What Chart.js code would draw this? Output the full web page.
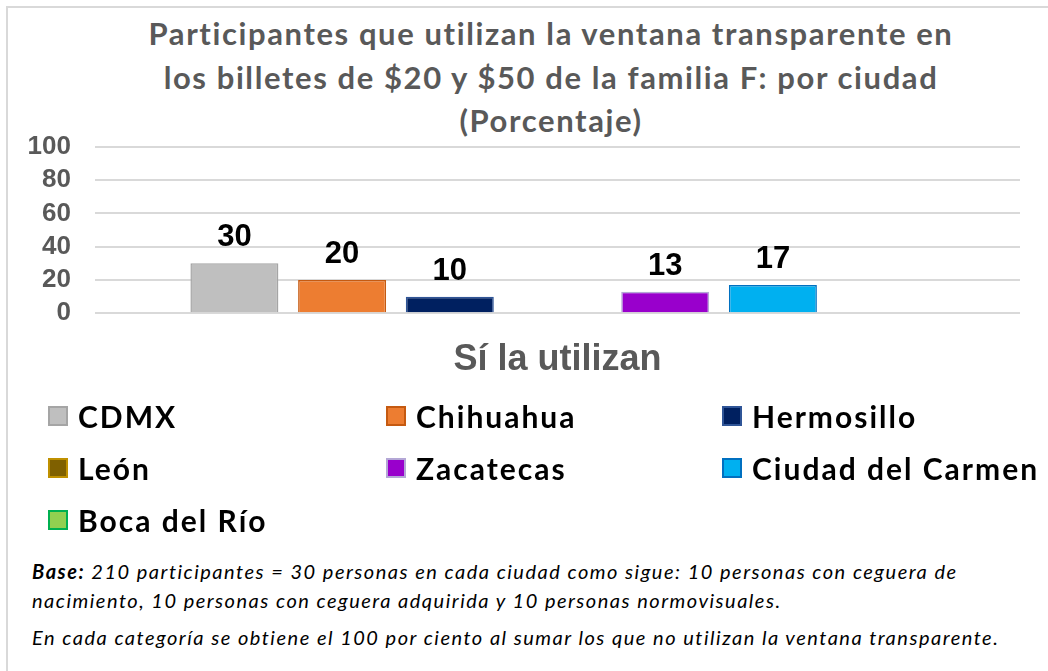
<!DOCTYPE html>
<html><head><meta charset="utf-8">
<script src="https://cdn.jsdelivr.net/npm/chart.js@4.4.1/dist/chart.umd.min.js"></script>
<style>
html,body{margin:0;padding:0;background:#fff;width:1048px;height:671px;overflow:hidden;}
#frame{position:absolute;left:6px;top:6px;width:1100px;height:700px;border-left:2px solid #d9d9d9;border-top:2px solid #d9d9d9;}
#title{position:absolute;left:0;top:12px;width:1102px;text-align:center;font-family:Lato,sans-serif;font-weight:bold;font-size:31px;letter-spacing:1.6px;line-height:43.5px;color:#595959;}
#wrap{position:absolute;left:0;top:120px;width:1048px;height:280px;}
#legend{position:absolute;left:0;top:390px;width:1048px;height:160px;font-family:Lato,sans-serif;font-weight:bold;font-size:30px;letter-spacing:2px;color:#000;}
.li{position:absolute;height:52px;display:flex;align-items:center;white-space:nowrap;}
.sw{width:20px;height:20px;margin-right:10px;box-sizing:border-box;border:2px solid;}
#note{position:absolute;left:32px;top:557px;width:1016px;font-family:Lato,sans-serif;font-style:italic;font-size:20px;letter-spacing:1.5px;color:#000;line-height:29px;white-space:nowrap;}
#note p{margin:0;}
</style></head><body>
<div id="frame"></div>
<div id="title">Participantes que utilizan la ventana transparente en<br>los billetes de $20 y $50 de la familia F: por ciudad<br>(Porcentaje)</div>
<div id="wrap"><canvas id="c" width="1048" height="280"></canvas></div>
<div id="legend"></div>
<div id="note"><p><b>Base:</b> 210 participantes = 30 personas en cada ciudad como sigue: 10 personas con ceguera de<br>nacimiento, 10 personas con ceguera adquirida y 10 personas normovisuales.</p><p style="margin-top:8px">En cada categoría se obtiene el 100 por ciento al sumar los que no utilizan la ventana transparente.</p></div>
<script>
const categories = ["Sí la utilizan"];
const cities = ["CDMX","Chihuahua","Hermosillo","León","Zacatecas","Ciudad del Carmen","Boca del Río"];
const values = [30, 20, 10, null, 13, 17, null];
const fillColors = ["#bfbfbf","#ed7d31","#002060","#7f6000","#9900cc","#00b0f0","#92d050"];
const borderColors = ["#a5a5a5","#c55a11","#2f5597","#bf9000","#b4a7d6","#0070c0","#00b050"];
const yTicks = [0,20,40,60,80,100];

const datasets = cities.map((name,i)=>({
  label:name, data:[values[i]], backgroundColor:fillColors[i], borderColor:borderColors[i], borderWidth:1.5,
  categoryPercentage:0.815, barPercentage:0.817
}));

const labelPlugin = {
  id:'barLabels',
  afterDatasetsDraw(chart){
    const ctx = chart.ctx;
    ctx.save();
    ctx.font = 'bold 31px Arial, "Liberation Sans", sans-serif';
    ctx.fillStyle = '#000';
    ctx.textAlign = 'center';
    ctx.textBaseline = 'bottom';
    chart.data.datasets.forEach((ds,i)=>{
      const meta = chart.getDatasetMeta(i);
      meta.data.forEach((bar,j)=>{
        const v = ds.data[j];
        if (v === null || v === undefined) return;
        ctx.fillText(String(v), bar.x, bar.y - 10);
      });
    });
    ctx.restore();
  }
};

new Chart(document.getElementById('c'), {
  type:'bar',
  data:{labels:categories, datasets},
  options:{
    responsive:false, animation:false,
    layout:{padding:{top:26.7,right:28,left:0,bottom:0}},
    plugins:{legend:{display:false}, title:{display:false}, tooltip:{enabled:false}},
    scales:{
      y:{
        min:0,max:100,
        afterBuildTicks(s){ s.ticks = yTicks.map(v=>({value:v})); },
        afterFit(s){ s.width = 95; s.paddingTop = 0; s.paddingBottom = 0; },
        border:{display:false},
        grid:{color:'#d9d9d9', lineWidth:2, drawTicks:false},
        ticks:{autoSkip:false, padding:24, color:'#595959', font:{family:'Arial, "Liberation Sans", sans-serif', weight:'bold', size:26}}
      },
      x:{
        afterFit(s){ s.height = 86.7; s.paddingLeft = 0; s.paddingRight = 0; },
        border:{display:false},
        grid:{display:false, drawTicks:false},
        ticks:{padding:25, color:'#595959', font:{family:'Arial, "Liberation Sans", sans-serif', weight:'bold', size:36}}
      }
    }
  },
  plugins:[labelPlugin]
});

const legendPos = [[48,0],[386,0],[722,0],[48,52],[386,52],[722,52],[48,104]];
const lg = document.getElementById('legend');
cities.forEach((name,i)=>{
  const d = document.createElement('div');
  d.className='li';
  d.style.left = legendPos[i][0]+'px';
  d.style.top = legendPos[i][1]+'px';
  const sw = document.createElement('span');
  sw.className='sw';
  sw.style.background = fillColors[i];
  sw.style.borderColor = borderColors[i];
  d.appendChild(sw);
  d.appendChild(document.createTextNode(name));
  lg.appendChild(d);
});
</script>
</body></html>
